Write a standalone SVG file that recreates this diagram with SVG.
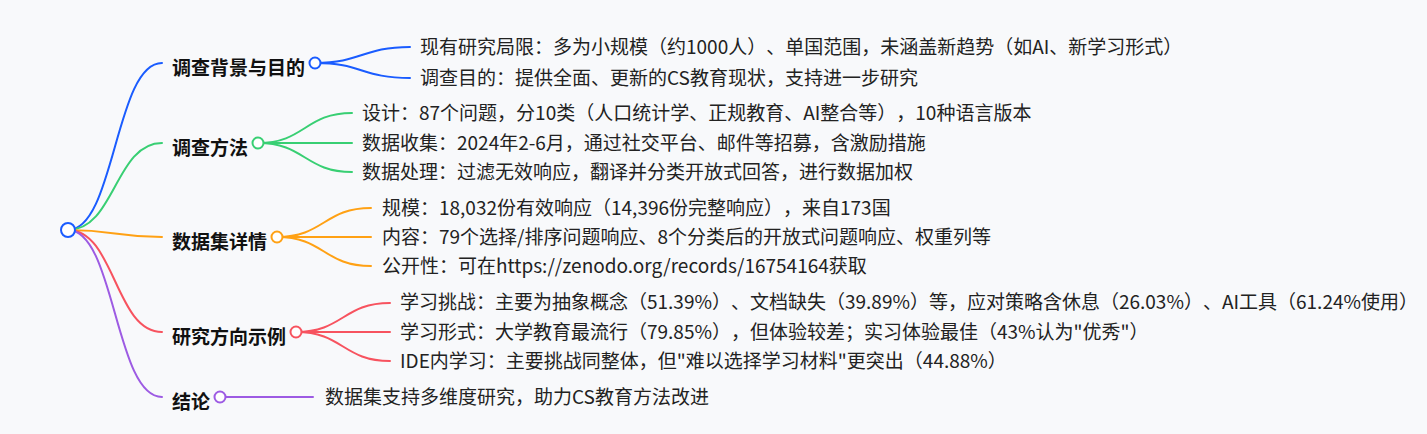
<svg xmlns="http://www.w3.org/2000/svg" width="1427" height="434" viewBox="0 0 1427 434">
<style>
.bg{fill:#f8f9fb}
.lk{fill:none;stroke-width:2;stroke-linecap:round}
.c{fill:#ffffff;stroke-width:2}
.t1{font-family:"Noto Sans CJK SC","Noto Sans",sans-serif;font-size:19px;font-weight:bold;fill:#111;text-spacing-trim:space-all}
.t2{font-family:"Noto Sans CJK SC","Noto Sans",sans-serif;font-size:19px;fill:#222;text-spacing-trim:space-all}
.b{stroke:#1a5cff}.g{stroke:#38cf73}.o{stroke:#ffa114}.r{stroke:#f7535f}.p{stroke:#9d5be3}
</style>
<rect class="bg" x="0" y="0" width="1427" height="434"/>
<g id="connectors">
<path class="lk b" d="M68,230 C115,230 115,63 162,63"/>
<path class="lk g" d="M68,230 C115,230 115,143 162,143"/>
<path class="lk o" d="M68,230 C115,230 115,237 162,237"/>
<path class="lk r" d="M68,230 C115,230 115,332 162,332"/>
<path class="lk p" d="M68,230 C115,230 115,397 162,397"/>
<path class="lk b" d="M315,63 C362,63 362,47 410,47"/>
<path class="lk b" d="M315,63 C362,63 362,78 410,78"/>
<path class="lk g" d="M258,143 C305,143 305,113 352,113"/>
<path class="lk g" d="M258,143 L352,143"/>
<path class="lk g" d="M258,143 C305,143 305,172 352,172"/>
<path class="lk o" d="M277,237 C324,237 324,208 371,208"/>
<path class="lk o" d="M277,237 L371,237"/>
<path class="lk o" d="M277,237 C324,237 324,266 371,266"/>
<path class="lk r" d="M296,332 C343,332 343,303 390,303"/>
<path class="lk r" d="M296,332 L390,332"/>
<path class="lk r" d="M296,332 C343,332 343,361 390,361"/>
<path class="lk p" d="M220,397 L313,397"/>
</g>
<g id="root"><circle class="c b" cx="68" cy="230" r="7"/></g>
<g id="n-bg">
<text class="t1" x="172" y="75">调查背景与目的</text>
<circle class="c b" cx="315" cy="63" r="5.5"/>
</g>
<g id="n-bg-1"><text class="t2" x="420" y="54">现有研究局限：多为小规模（约1000人）、单国范围，未涵盖新趋势（如AI、新学习形式）</text></g>
<g id="n-bg-2"><text class="t2" x="420" y="85">调查目的：提供全面、更新的CS教育现状，支持进一步研究</text></g>
<g id="n-method">
<text class="t1" x="172" y="155">调查方法</text>
<circle class="c g" cx="258" cy="143" r="5.5"/>
</g>
<g id="n-method-1"><text class="t2" x="362" y="120">设计：87个问题，分10类（人口统计学、正规教育、AI整合等），10种语言版本</text></g>
<g id="n-method-2"><text class="t2" x="362" y="150">数据收集：2024年2-6月，通过社交平台、邮件等招募，含激励措施</text></g>
<g id="n-method-3"><text class="t2" x="362" y="179">数据处理：过滤无效响应，翻译并分类开放式回答，进行数据加权</text></g>
<g id="n-data">
<text class="t1" x="172" y="249">数据集详情</text>
<circle class="c o" cx="277" cy="237" r="5.5"/>
</g>
<g id="n-data-1"><text class="t2" x="382" y="215">规模：18,032份有效响应（14,396份完整响应），来自173国</text></g>
<g id="n-data-2"><text class="t2" x="382" y="244">内容：79个选择/排序问题响应、8个分类后的开放式问题响应、权重列等</text></g>
<g id="n-data-3"><text class="t2" x="382" y="273">公开性：可在https://zenodo.org/records/16754164获取</text></g>
<g id="n-res">
<text class="t1" x="172" y="344">研究方向示例</text>
<circle class="c r" cx="296" cy="332" r="5.5"/>
</g>
<g id="n-res-1"><text class="t2" x="400" y="309">学习挑战：主要为抽象概念（51.39%）、文档缺失（39.89%）等，应对策略含休息（26.03%）、AI工具（61.24%使用）</text></g>
<g id="n-res-2"><text class="t2" x="400" y="339">学习形式：大学教育最流行（79.85%），但体验较差；实习体验最佳（43%认为"优秀"）</text></g>
<g id="n-res-3"><text class="t2" x="400" y="368">IDE内学习：主要挑战同整体，但"难以选择学习材料"更突出（44.88%）</text></g>
<g id="n-conc">
<text class="t1" x="172" y="409">结论</text>
<circle class="c p" cx="220" cy="397" r="5.5"/>
</g>
<g id="n-conc-1"><text class="t2" x="325" y="404">数据集支持多维度研究，助力CS教育方法改进</text></g>
</svg>
